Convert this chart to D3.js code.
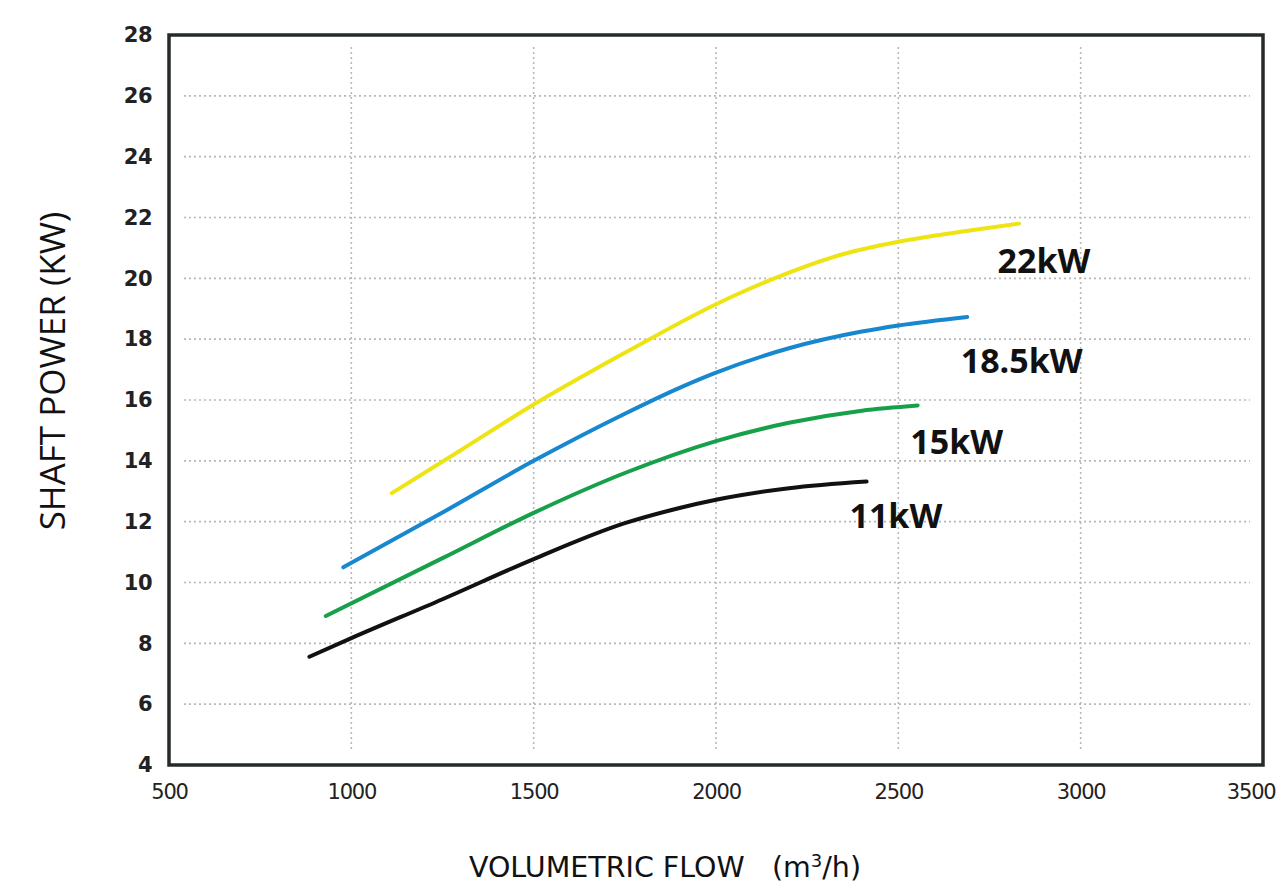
<!DOCTYPE html>
<html>
<head>
<meta charset="utf-8">
<script src="https://cdn.jsdelivr.net/npm/d3@7"></script>
<style>
  html, body { margin: 0; padding: 0; background: #fff; }
  svg { display: block; }
</style>
</head>
<body>
<svg id="chart" width="1277" height="885"></svg>
<script>
// ---- Data ----
const xTicks = [500, 1000, 1500, 2000, 2500, 3000, 3500];
const yTicks = [4, 6, 8, 10, 12, 14, 16, 18, 20, 22, 24, 26, 28];

const flow11 = [885, 1000, 1250, 1500, 1750, 1900, 2000, 2200, 2413];
const power11 = [7.56, 8.17, 9.45, 10.77, 11.95, 12.45, 12.72, 13.10, 13.32];

const flow15 = [930, 1250, 1500, 1750, 2000, 2200, 2400, 2553];
const power15 = [8.90, 10.80, 12.29, 13.60, 14.65, 15.25, 15.65, 15.82];

const flow185 = [978, 1250, 1500, 1750, 1900, 2000, 2200, 2400, 2500, 2689];
const power185 = [10.50, 12.30, 14.00, 15.55, 16.40, 16.90, 17.70, 18.25, 18.45, 18.73];

const flow22 = [1111, 1300, 1500, 1750, 2000, 2150, 2350, 2500, 2700, 2831];
const power22 = [12.94, 14.35, 15.85, 17.55, 19.15, 19.95, 20.80, 21.20, 21.58, 21.80];

const seriesNames = ["11kW", "15kW", "18.5kW", "22kW"];
const seriesColors = ["#111111", "#17a04a", "#1787cf", "#eee414"];
// label anchor positions in data units (flow, power)
const labelFlow = [2366, 2533, 2671, 2772];
const labelPower = [11.80, 14.23, 16.89, 20.18];

// ---- Chart ----
const svg = d3.select("#chart");
const x = d3.scaleLinear().domain([500, 3500]).range([169, 1263]);
const y = d3.scaleLinear().domain([4, 28]).range([765, 35]);

// grid lines
const grid = svg.append("g");
grid.selectAll("line.h").data(yTicks.slice(1, -1)).join("line")
  .attr("x1", 184).attr("x2", 1250)
  .attr("y1", d => y(d)).attr("y2", d => y(d))
  .attr("stroke", "#b8b8b8").attr("stroke-width", 1.6)
  .attr("stroke-dasharray", "2,3");
grid.selectAll("line.v").data(xTicks.slice(1, -1)).join("line")
  .attr("y1", 47).attr("y2", 752)
  .attr("x1", d => x(d)).attr("x2", d => x(d))
  .attr("stroke", "#b8b8b8").attr("stroke-width", 1.6)
  .attr("stroke-dasharray", "2,3");

// series lines
const series = [
  {flow: flow11, power: power11},
  {flow: flow15, power: power15},
  {flow: flow185, power: power185},
  {flow: flow22, power: power22}
];
const line = d3.line().x(d => x(d[0])).y(d => y(d[1])).curve(d3.curveMonotoneX);
series.forEach((s, i) => {
  const pts = s.flow.map((f, j) => [f, s.power[j]]);
  svg.append("path").datum(pts)
    .attr("d", line)
    .attr("fill", "none")
    .attr("stroke", seriesColors[i])
    .attr("stroke-width", 4)
    .attr("stroke-linecap", "round");
});

// series labels
svg.append("g").selectAll("text").data(seriesNames).join("text")
  .attr("x", (d, i) => x(labelFlow[i]))
  .attr("y", (d, i) => y(labelPower[i]))
  .attr("font-family", "'Open Sans', sans-serif")
  .attr("font-weight", 700)
  .attr("font-size", 34)
  .attr("fill", "#111")
  .text(d => d);

// frame
svg.append("rect")
  .attr("x", 169).attr("y", 35)
  .attr("width", 1263 - 169).attr("height", 765 - 35)
  .attr("fill", "none").attr("stroke", "#252b29").attr("stroke-width", 3.5);

// axes
const yAxis = d3.axisLeft(y).tickValues(yTicks).tickSize(0).tickPadding(17);
const gy = svg.append("g").attr("transform", "translate(169,0)").call(yAxis);
gy.select(".domain").remove();
gy.selectAll("text")
  .attr("font-family", "'DejaVu Sans', sans-serif")
  .attr("font-size", 21).attr("font-weight", 700).attr("fill", "#222")
  .attr("letter-spacing", -0.5);

const xAxis = d3.axisBottom(x).tickValues(xTicks).tickSize(0).tickPadding(19).tickFormat(d3.format("d"));
const gx = svg.append("g").attr("transform", "translate(0,765)").call(xAxis);
gx.select(".domain").remove();
gx.selectAll("text")
  .attr("font-family", "'DejaVu Sans', sans-serif")
  .attr("font-size", 21).attr("fill", "#222")
  .attr("letter-spacing", -1.2);
// keep the last tick label inside the picture
gx.selectAll(".tick").filter(d => d === xTicks[xTicks.length - 1]).select("text")
  .attr("text-anchor", "end").attr("dx", 12);

// axis titles
const xt = svg.append("text")
  .attr("x", 665).attr("y", 877)
  .attr("text-anchor", "middle")
  .attr("font-family", "'DejaVu Sans', sans-serif")
  .attr("font-size", 28.5).attr("fill", "#111");
xt.append("tspan").text("VOLUMETRIC FLOW\u00a0\u00a0 (m");
xt.append("tspan").attr("dy", -10).attr("font-size", 18).text("3");
xt.append("tspan").attr("dy", 10).text("/h)");

svg.append("text")
  .attr("transform", "translate(65,371) rotate(-90)")
  .attr("text-anchor", "middle")
  .attr("font-family", "'Open Sans', sans-serif")
  .attr("font-size", 35).attr("fill", "#111")
  .text("SHAFT POWER (KW)");
</script>
</body>
</html>
